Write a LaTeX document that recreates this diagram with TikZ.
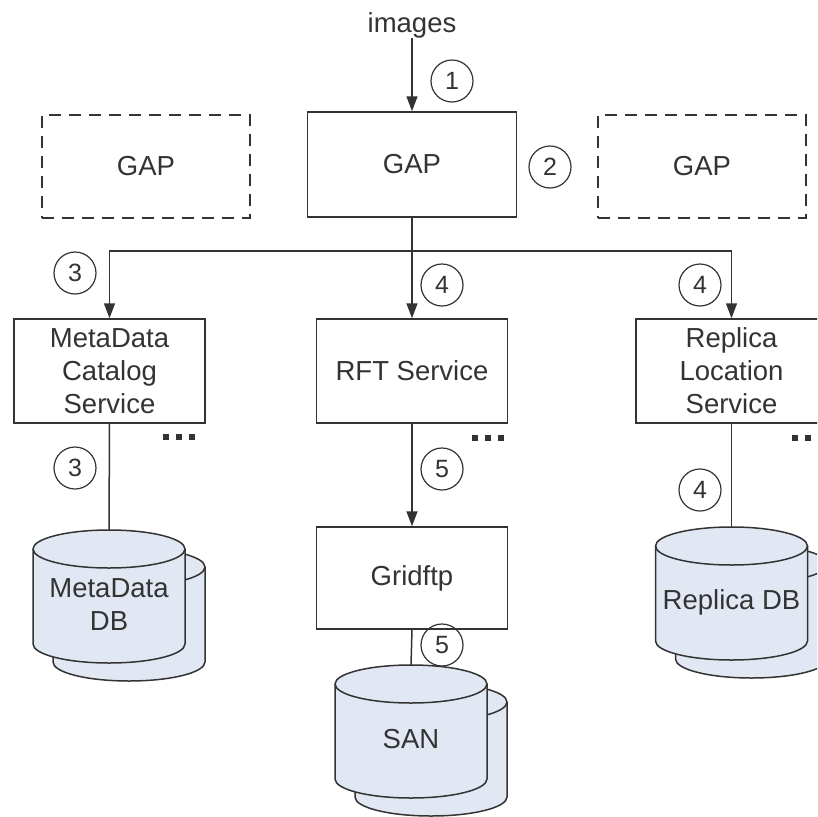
\documentclass[tikz,border=0pt]{standalone}
\usepackage{fontspec}
\setmainfont{Liberation Sans}
\usetikzlibrary{arrows.meta}
\definecolor{ink}{HTML}{333333}
\definecolor{dbfill}{HTML}{E2E8F3}

\tikzset{
  % two stacked database cylinders; (0,0) is the centre of the front top rim
  dbstack/.pic={
    \foreach \dx/\dy in {20/18, 0/0} {
      \filldraw[fill=dbfill, draw=ink, line width=1.5pt]
        (\dx-76, \dy) -- (\dx-76, \dy+95)
        arc[start angle=180, end angle=360, x radius=76pt, y radius=19pt]
        -- (\dx+76, \dy)
        arc[start angle=0, end angle=180, x radius=76pt, y radius=19pt] -- cycle;
      \draw[draw=ink, line width=1.5pt] (\dx-76, \dy)
        arc[start angle=180, end angle=360, x radius=76pt, y radius=19pt];
    }
    \coordinate (-top) at (0,-19);
  },
  % the "more of these" marker
  moredots/.pic={
    \foreach \i in {0,1,2} \fill[ink] (\i*13, -3) rectangle +(6,6);
  }
}

\begin{document}
\begin{tikzpicture}[x=1pt, y=-1pt,
  txt/.style={text=ink, font=\fontsize{27.5}{33}\selectfont, align=center, inner sep=0pt},
  box/.style={txt, draw=ink, line width=1.5pt, minimum width=191pt, minimum height=104pt},
  ghost/.style={box, dash pattern=on 12pt off 8pt, minimum width=208pt, minimum height=103pt},
  num/.style={circle, draw=ink, text=ink, line width=1.2pt, minimum size=42pt, inner sep=0pt,
              font=\fontsize{25}{25}\selectfont},
  link/.style={draw=ink, line width=1.5pt},
  arr/.style={link, -{Triangle[width=11pt, length=15pt]}},
]
\clip (0,0) rectangle (817,817);
\fill[white] (0,0) rectangle (817,817);

% gateways
\node[txt] (img) at (412, 25) {images};
\node[box, minimum width=209pt, minimum height=105pt] (gap) at (412, 164.5) {GAP};
\node[ghost] (gapl) at (146, 166.5) {GAP};
\node[ghost] (gapr) at (702, 166.5) {GAP};

% services
\node[box] (mdc) at (109.5, 371) {MetaData\\Catalog\\Service};
\node[box] (rft) at (412, 371) {RFT Service};
\node[box] (rls) at (731.5, 371) {Replica\\Location\\Service};
\node[box, minimum height=102pt] (grid) at (412, 578) {Gridftp};

% storage
\pic (mddb) at (109, 549) {dbstack};
\pic (san)  at (411, 684) {dbstack};
\pic (rdb)  at (731.5, 546) {dbstack};
\node[txt] (mddbl) at (109, 605) {MetaData\\DB};
\node[txt] (sanl)  at (411, 739) {SAN};
\node[txt] (rdbl)  at (731.5, 602) {Replica DB};

\pic at (163, 437) {moredots};
\pic at (472, 438) {moredots};
\pic at (792, 438) {moredots};

% connectors
\coordinate (bus) at (412, 251);
\draw[arr] (img) -- (gap.north);
\draw[link] (gap.south) -- (bus);
\draw[arr] (bus) -| (mdc.north);
\draw[arr] (bus) -- (rft.north);
\draw[arr] (bus) -| (rls.north);
\draw[arr] (rft.south) -- (grid.north);
\draw[link] (mdc.south) -- (mddb-top);
\draw[link] (grid.south) -- (san-top);
\draw[link] (rls.south) -- (rdb-top);

% step numbers
\node[num] (n1)  at (452, 81)  {1};
\node[num] (n2)  at (550, 167) {2};
\node[num] (n3a) at (75, 273)  {3};
\node[num] (n4a) at (442, 285) {4};
\node[num] (n4b) at (700, 285) {4};
\node[num] (n3b) at (75, 468)  {3};
\node[num] (n5a) at (442, 469) {5};
\node[num] (n4c) at (700, 490) {4};
\node[num] (n5b) at (442, 645) {5};
\end{tikzpicture}
\end{document}
